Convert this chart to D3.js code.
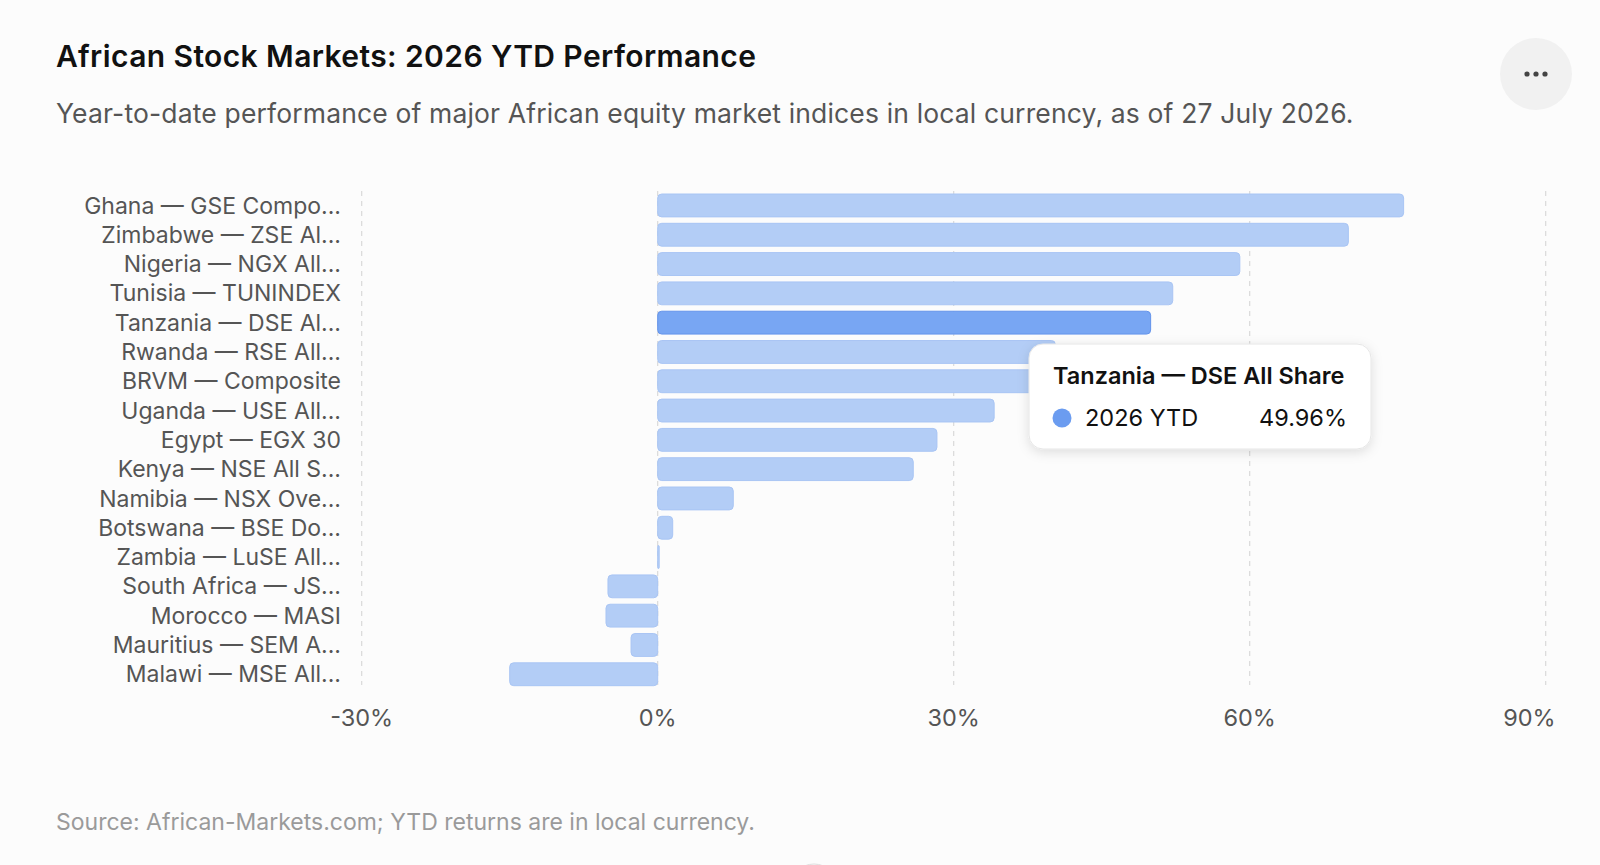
<!DOCTYPE html>
<html>
<head>
<meta charset="utf-8">
<script src="https://cdn.jsdelivr.net/npm/d3@7"></script>
<style>
  html, body { margin: 0; padding: 0; background: #fcfcfc; }
  body { font-family: Inter, "Noto Sans", sans-serif; }
</style>
</head>
<body>
<div id="chart"></div>
<script>
// chart data
var markets = [
  "Ghana — GSE Compo...", "Zimbabwe — ZSE Al...", "Nigeria — NGX All...", "Tunisia — TUNINDEX",
  "Tanzania — DSE Al...", "Rwanda — RSE All...", "BRVM — Composite", "Uganda — USE All...",
  "Egypt — EGX 30", "Kenya — NSE All S...", "Namibia — NSX Ove...", "Botswana — BSE Do...",
  "Zambia — LuSE All...", "South Africa — JS...", "Morocco — MASI", "Mauritius — SEM A...",
  "Malawi — MSE All..."
];
var ytd = [75.6, 70.0, 59.0, 52.2, 49.96, 40.3, 38.6, 34.1, 28.3, 25.9, 7.66, 1.52, 0.15, -5.04, -5.24, -2.7, -15.0];
var xTicks = [-30, 0, 30, 60, 90];
var highlighted = "Tanzania — DSE Al...";
var tooltipTitle = "Tanzania — DSE All Share";
var seriesName = "2026 YTD";

var W = 1600, H = 865;
var svg = d3.select("#chart").append("svg")
    .attr("width", W)
    .attr("height", H);

svg.append("rect").attr("width", W).attr("height", H).attr("fill", "#fcfcfc");

// title + subtitle
svg.append("text")
    .attr("x", 56).attr("y", 67)
    .attr("font-size", 30).attr("font-weight", 600).attr("fill", "#111")
    .attr("letter-spacing", 0.4)
    .text("African Stock Markets: 2026 YTD Performance");
svg.append("text")
    .attr("x", 56).attr("y", 123)
    .attr("font-size", 26.5).attr("fill", "#555")
    .attr("letter-spacing", 0.15)
    .text("Year-to-date performance of major African equity market indices in local currency, as of 27 July 2026.");

// menu button
var menu = svg.append("g").attr("transform", "translate(1536,74)");
menu.append("circle").attr("r", 36).attr("fill", "#f1f1f1");
menu.selectAll("circle.dot").data([-9, 0, 9]).enter()
  .append("circle").attr("class", "dot")
    .attr("cx", function(d) { return d; }).attr("r", 2.6).attr("fill", "#444");

// scales
var x = d3.scaleLinear().domain([-30, 90]).range([361.7, 1545.7]);
var y = d3.scaleBand().domain(markets).range([190.8, 688.9])
    .paddingInner(0.22).paddingOuter(0.11);

// grid
svg.append("g").selectAll("line").data(xTicks).enter()
  .append("line")
    .attr("x1", function(d) { return x(d); }).attr("x2", function(d) { return x(d); })
    .attr("y1", 191).attr("y2", 685)
    .attr("stroke", "#d9d9d9").attr("stroke-width", 1.2)
    .attr("stroke-dasharray", "5,5");

// bars
var data = markets.map(function(m, i) { return {name: m, value: ytd[i]}; });
svg.append("g").selectAll("rect").data(data).enter()
  .append("rect")
    .attr("x", function(d) { return x(Math.min(0, d.value)); })
    .attr("y", function(d) { return y(d.name); })
    .attr("width", function(d) { return Math.max(1.5, Math.abs(x(d.value) - x(0))); })
    .attr("height", y.bandwidth())
    .attr("rx", function(d) { return Math.min(4, Math.abs(x(d.value) - x(0)) / 2); })
    .attr("fill", function(d) { return d.name == highlighted ? "#78a6f3" : "#b3cdf6"; })
    .attr("stroke", function(d) { return d.name == highlighted ? "#6393eb" : "#a9c5f4"; })
    .attr("stroke-width", 1);

// y labels
svg.append("g").selectAll("text").data(markets).enter()
  .append("text")
    .attr("x", 341)
    .attr("y", function(d) { return y(d) + y.bandwidth() / 2; })
    .attr("dy", "0.35em")
    .attr("text-anchor", "end")
    .attr("font-size", 23).attr("fill", "#555")
    .text(function(d) { return d; });

// x labels (last one is kept inside the plot edge)
var last = xTicks[xTicks.length - 1];
svg.append("g").selectAll("text").data(xTicks).enter()
  .append("text")
    .attr("x", function(d) { return d == last ? x(d) + 10 : x(d); })
    .attr("y", 726)
    .attr("text-anchor", function(d) { return d == last ? "end" : "middle"; })
    .attr("font-size", 23.5).attr("fill", "#555")
    .text(function(d) { return d + "%"; });

// source
svg.append("text")
    .attr("x", 56).attr("y", 830)
    .attr("font-size", 23).attr("fill", "#9a9a9a")
    .text("Source: African-Markets.com; YTD returns are in local currency.");

// bottom partial circle
svg.append("circle").attr("cx", 814).attr("cy", 888).attr("r", 24)
    .attr("fill", "#fcfcfc").attr("stroke", "#ddd");

// tooltip for the highlighted bar
var defs = svg.append("defs");
var f = defs.append("filter").attr("id", "shadow").attr("x", "-20%").attr("y", "-30%").attr("width", "140%").attr("height", "170%");
f.append("feDropShadow").attr("dx", 0).attr("dy", 3).attr("stdDeviation", 6)
    .attr("flood-color", "#000").attr("flood-opacity", 0.12);

var hi = ytd[markets.indexOf(highlighted)];
var tip = svg.append("g").attr("transform", "translate(1029,344)");
tip.append("rect").attr("width", 342).attr("height", 105).attr("rx", 14)
    .attr("fill", "#fff").attr("stroke", "#e6e6e6").attr("filter", "url(#shadow)");
tip.append("text").attr("x", 24).attr("y", 32).attr("dy", "0.35em")
    .attr("font-size", 23.5).attr("font-weight", 600).attr("fill", "#111")
    .text(tooltipTitle);
tip.append("circle").attr("cx", 33).attr("cy", 74).attr("r", 9.5).attr("fill", "#6b9cf0");
tip.append("text").attr("x", 56).attr("y", 74).attr("dy", "0.35em")
    .attr("font-size", 23.5).attr("fill", "#111").text(seriesName);
tip.append("text").attr("x", 318).attr("y", 74).attr("dy", "0.35em")
    .attr("text-anchor", "end")
    .attr("font-size", 23.5).attr("fill", "#111").text(hi.toFixed(2) + "%");
</script>
</body>
</html>
